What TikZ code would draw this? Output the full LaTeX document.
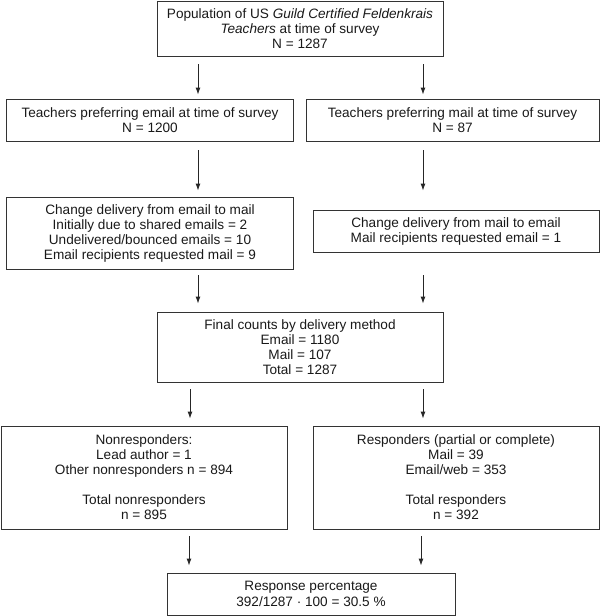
\documentclass[tikz,border=0pt]{standalone}
\usepackage{fontspec}
\setmainfont{Liberation Sans}
\usetikzlibrary{arrows.meta,calc}
\begin{document}
\begin{tikzpicture}[x=1pt,y=-1pt,
  box/.style={draw=black!80,line width=0.9pt,align=center,inner sep=0pt,
    font=\fontsize{13.6}{15}\selectfont,text=black!90},
  arr/.style={draw=black!85,line width=0.9pt,-{Latex[length=7pt,width=5pt]}}]
\useasboundingbox (0,0) rectangle (600,616);
\node[box,minimum width=286pt,minimum height=55pt] (b1) at (300,28.5)
  {Population of US \textit{Guild Certified Feldenkrais}\\\textit{Teachers} at time of survey\\N = 1287};
\node[box,minimum width=287pt,minimum height=42pt] (b2l) at (150,120)
  {Teachers preferring email at time of survey\\N = 1200};
\node[box,minimum width=293pt,minimum height=42pt] (b2r) at (452.5,120)
  {Teachers preferring mail at time of survey\\N = 87};
\node[box,minimum width=287pt,minimum height=72pt] (b3l) at (150,233)
  {Change delivery from email to mail\\Initially due to shared emails = 2\\Undelivered/bounced emails = 10\\Email recipients requested mail = 9};
\node[box,minimum width=286pt,minimum height=42pt] (b3r) at (456,231)
  {Change delivery from mail to email\\Mail recipients requested email = 1};
\node[box,minimum width=286pt,minimum height=70pt] (b4) at (300,347)
  {Final counts by delivery method\\Email = 1180\\Mail = 107\\Total = 1287};
\node[box,minimum width=286pt,minimum height=103pt] (b5l) at (144,477.5)
  {Nonresponders:\\Lead author = 1\\Other nonresponders n = 894\\[15pt]Total nonresponders\\n = 895};
\node[box,minimum width=286pt,minimum height=103pt] (b5r) at (456,477.5)
  {Responders (partial or complete)\\Mail = 39\\Email/web = 353\\[15pt]Total responders\\n = 392};
\node[box,minimum width=288pt,minimum height=42pt,font=\fontsize{13.6}{15.6}\selectfont] (b6) at (311,594)
  {Response percentage\\392/1287 · 100 = 30.5 \%};
% arrows
\coordinate (xa) at (198,0);
\coordinate (xb) at (423,0);
\coordinate (xc) at (190,0);
\coordinate (xd) at (189,0);
\coordinate (xe) at (421,0);
\draw[arr] ($(b1.south -| xa)+(0,8)$) -- ($(b2l.north -| xa)+(0,-4)$);
\draw[arr] ($(b1.south -| xb)+(0,8)$) -- ($(b2r.north -| xb)+(0,-4)$);
\draw[arr] ($(b2l.south -| xa)+(0,9)$) -- ($(b3l.north -| xa)+(0,-6)$);
\draw[arr] ($(b2r.south -| xb)+(0,9)$) -- ($(b3r.north -| xb)+(0,-19)$);
\draw[arr] ($(b3l.south -| xa)+(0,6)$) -- ($(b4.north -| xa)+(0,-8)$);
\draw[arr] ($(b3r.south -| xb)+(0,23)$) -- ($(b4.north -| xb)+(0,-8)$);
\draw[arr] ($(b4.south -| xc)+(0,7)$) -- ($(b5l.north -| xc)+(0,-7)$);
\draw[arr] ($(b4.south -| xb)+(0,7)$) -- ($(b5r.north -| xb)+(0,-7)$);
\draw[arr] ($(b5l.south -| xd)+(0,7)$) -- ($(b6.north -| xd)+(0,-7)$);
\draw[arr] ($(b5r.south -| xe)+(0,7)$) -- ($(b6.north -| xe)+(0,-7)$);
\end{tikzpicture}
\end{document}
